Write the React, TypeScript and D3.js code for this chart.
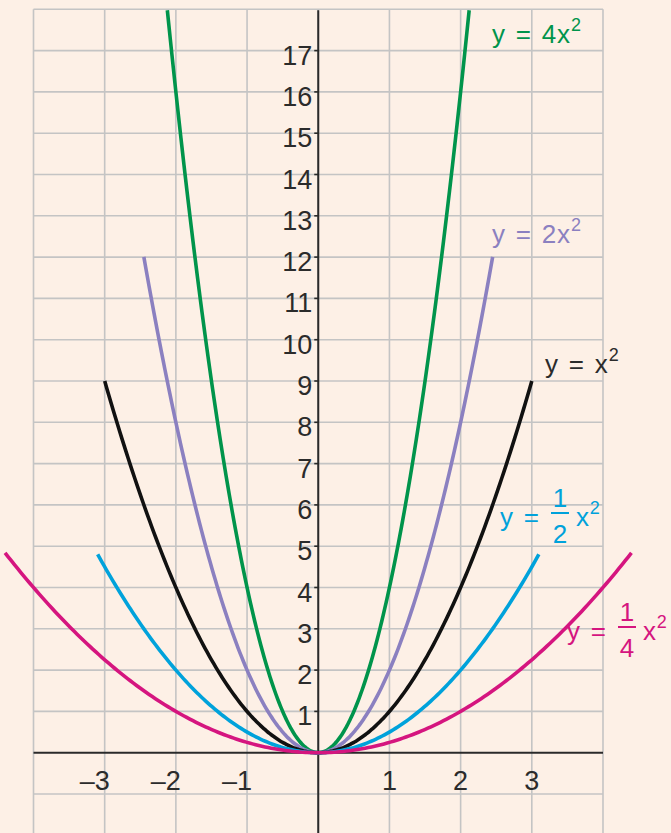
import React from "react";
import * as d3 from "d3";

// Parabolas y = a·x², each drawn over its own x-extent
const coefficients = [4, 2, 1, 0.5, 0.25];
const xLimits = [2.12, 2.45, 3, 3.1, 4.4];
const curveColors = ["#00944b", "#8b80c0", "#111111", "#00a2db", "#d5157f"];

const xTickValues = [-3, -2, -1, 1, 2, 3];
const xTickLabels = ["–3", "–2", "–1", "1", "2", "3"];
const yTickValues = [1, 2, 3, 4, 5, 6, 7, 8, 9, 10, 11, 12, 13, 14, 15, 16, 17];

const W = 671;
const H = 833;
const BG = "#fdf0e6";
const GRID = "#c4c4c4";
const AXIS = "#2a2a2a";
const FONT = "'Liberation Sans', Arial, Helvetica, sans-serif";

export default function App() {
  const x = d3.scaleLinear().domain([-4, 4]).range([33.5, 603]);
  const y = d3.scaleLinear().domain([0, 17]).range([752.7, 50.6]);

  const gridX = d3.range(-4, 5);
  const gridY = d3.range(-1, 19).filter((v) => v !== 0);

  const line = d3
    .line<[number, number]>()
    .x((d) => x(d[0]))
    .y((d) => y(d[1]))
    .curve(d3.curveMonotoneX);

  const curves = coefficients.map((a, i) => {
    const lim = xLimits[i];
    const n = 200;
    const pts: [number, number][] = d3
      .range(n + 1)
      .map((k) => -lim + (2 * lim * k) / n)
      .map((t) => [t, a * t * t]);
    return { d: line(pts) || "", color: curveColors[i] };
  });

  const labelSize = 26;
  const supSize = 18;
  const spacing = { whiteSpace: "pre" as const, letterSpacing: "0.8px", wordSpacing: "2px" };

  const simpleLabel = (
    xPos: number,
    base: number,
    body: string,
    color: string
  ) => (
    <text
      x={xPos}
      y={base}
      fill={color}
      fontFamily={FONT}
      fontSize={labelSize}
      style={spacing}
    >
      {body}
      <tspan fontSize={supSize} dy={-12}>
        2
      </tspan>
    </text>
  );

  const fractionLabel = (
    xPos: number,
    base: number,
    den: string,
    color: string
  ) => {
    const fx = xPos + 60; // centre of the fraction
    return (
      <g fill={color} fontFamily={FONT} fontSize={labelSize}>
        <text x={xPos} y={base} style={spacing}>
          {"y ="}
        </text>
        <text x={fx} y={base - 19} textAnchor="middle">
          1
        </text>
        <line
          x1={fx - 9}
          x2={fx + 9}
          y1={base - 13}
          y2={base - 13}
          stroke={color}
          strokeWidth={2}
        />
        <text x={fx} y={base + 17} textAnchor="middle">
          {den}
        </text>
        <text x={fx + 16} y={base} style={spacing}>
          x
          <tspan fontSize={supSize} dy={-12}>
            2
          </tspan>
        </text>
      </g>
    );
  };

  return (
    <svg
      width={W}
      height={H}
      style={{ position: "absolute", left: 0, top: 0, display: "block" }}
    >
      <rect x={0} y={0} width={W} height={H} fill={BG} />

      {/* grid */}
      <g stroke={GRID} strokeWidth={1.6}>
        {gridX.map((v) => (
          <line key={"gx" + v} x1={x(v)} x2={x(v)} y1={y(18)} y2={H} />
        ))}
        {gridY.map((v) => (
          <line key={"gy" + v} x1={x(-4)} x2={x(4)} y1={y(v)} y2={y(v)} />
        ))}
      </g>

      {/* axes */}
      <line x1={x(-4)} x2={x(4)} y1={y(0)} y2={y(0)} stroke={AXIS} strokeWidth={2} />
      <line x1={x(0)} x2={x(0)} y1={y(18) + 1} y2={H} stroke={AXIS} strokeWidth={2} />
      <g stroke={AXIS} strokeWidth={1.6}>
        {yTickValues.map((v) => (
          <line key={"yt" + v} x1={x(0) - 4} x2={x(0)} y1={y(v)} y2={y(v)} />
        ))}
      </g>

      {/* tick labels */}
      <g fill="#2b2b2b" fontFamily={FONT} fontSize={27}>
        {yTickValues.map((v) => (
          <text key={"yl" + v} x={x(0) - 6} y={y(v) + 14} textAnchor="end">
            {v}
          </text>
        ))}
        {xTickValues.map((v, i) => (
          <text
            key={"xl" + v}
            x={v < 0 ? x(v) + 5 : x(v)}
            y={y(0) + 37}
            textAnchor={v < 0 ? "end" : "middle"}
          >
            {xTickLabels[i]}
          </text>
        ))}
      </g>

      {/* curves */}
      <g fill="none" strokeWidth={3.6} strokeLinecap="butt">
        {curves.map((c, i) => (
          <path key={"c" + i} d={c.d} stroke={c.color} />
        ))}
      </g>

      {/* equation labels */}
      {simpleLabel(492, 43, "y = 4x", curveColors[0])}
      {simpleLabel(492, 243, "y = 2x", curveColors[1])}
      {simpleLabel(545, 373, "y = x", "#2b2b2b")}
      {fractionLabel(500, 526, "2", curveColors[3])}
      {fractionLabel(567, 640, "4", curveColors[4])}
    </svg>
  );
}
